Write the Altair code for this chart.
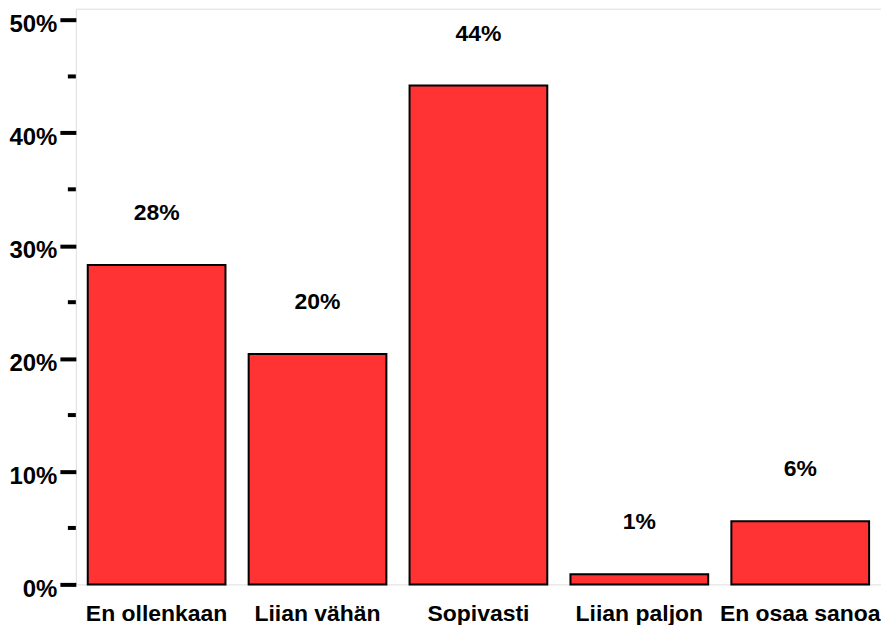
import altair as alt
import pandas as pd

categories = ["En ollenkaan", "Liian vähän", "Sopivasti", "Liian paljon", "En osaa sanoa"]
values = [28.3, 20.4, 44.2, 0.9, 5.6]
major_ticks = [0, 10, 20, 30, 40, 50]
minor_ticks = [5, 15, 25, 35, 45]

df = pd.DataFrame({"category": categories, "value": values})
minor_df = pd.DataFrame({"v": minor_ticks})

FONT = "Liberation Sans"

y_scale = alt.Scale(domain=[0, 51], nice=False, zero=True)
x_scale = alt.Scale(paddingInner=0.144, paddingOuter=0.074)

base = alt.Chart(df)

bars = base.mark_bar(color="#FF3333", stroke="black", strokeWidth=2).encode(
    x=alt.X("category:N", sort=categories, scale=x_scale,
            axis=alt.Axis(title=None, labelAngle=0, ticks=False, domain=False,
                          labelFont=FONT, labelFontSize=23, labelFontWeight="bold",
                          labelColor="black", labelPadding=18, labelOverlap=False)),
    y=alt.Y("value:Q", scale=y_scale,
            axis=alt.Axis(title=None, values=major_ticks, format=".0f",
                          labelExpr="datum.label + '%'", domain=False, grid=False,
                          tickSize=16, tickWidth=4, tickColor="black",
                          labelFont=FONT, labelFontSize=24, labelFontWeight="bold",
                          labelColor="black", labelPadding=3, labelOffset=5)),
)

labels = base.transform_calculate(
    lbl="format(round(datum.value), 'd') + '%'"
).mark_text(font=FONT, fontSize=23, fontWeight="bold", color="black",
            dy=-52, baseline="middle").encode(
    x=alt.X("category:N", sort=categories, scale=x_scale),
    y=alt.Y("value:Q", scale=y_scale),
    text="lbl:N",
)

minor = alt.Chart(minor_df).mark_rule(color="black", strokeWidth=4).encode(
    x=alt.value(-8), x2=alt.value(0),
    y=alt.Y("v:Q", scale=y_scale),
)

chart = alt.layer(bars, labels, minor).properties(
    width=807, height=577,
    padding={"left": 68, "top": 0, "right": 0, "bottom": 40},
    autosize=alt.AutoSizeParams(type="none"),
).configure_view(stroke="#888888", strokeWidth=1.5).configure(background="white")

chart.save("out.html", embed_options={"renderer": "svg", "actions": False})
